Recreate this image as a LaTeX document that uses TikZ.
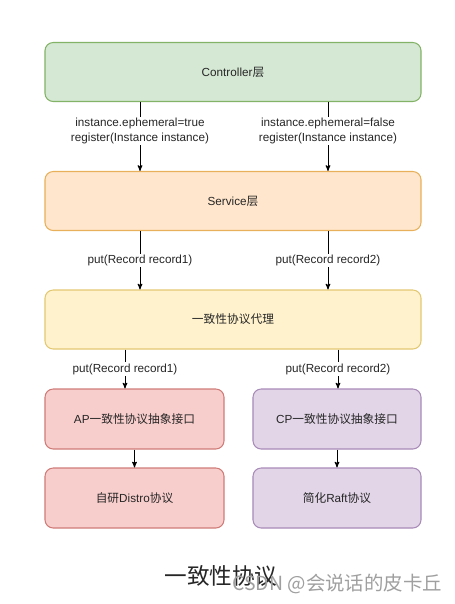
\documentclass[tikz,border=0pt]{standalone}
\usepackage{fontspec}
\setmainfont{Liberation Sans}
\newfontfamily\cjk{Noto Sans CJK SC}
\usetikzlibrary{arrows}
\usetikzlibrary{positioning}
\usepackage{xcolor}
\definecolor{greenfill}{HTML}{D5E8D4}\definecolor{greenline}{HTML}{82B366}
\definecolor{orangefill}{HTML}{FFE6CC}\definecolor{orangeline}{HTML}{E8B05A}
\definecolor{yellowfill}{HTML}{FFF2CC}\definecolor{yellowline}{HTML}{E3C872}
\definecolor{redfill}{HTML}{F8CECC}\definecolor{redline}{HTML}{CF7C79}
\definecolor{purplefill}{HTML}{E1D5E7}\definecolor{purpleline}{HTML}{A98BB8}

\begin{document}
\begin{tikzpicture}[
        x=0.03cm, y=-0.03cm,
        box/.style={rectangle, rounded corners=7pt, line width=0.9pt, minimum height=1.77cm, text=black!85, font=\fontsize{10}{12}\selectfont},
        wbox/.style={box, minimum width=11.28cm},
        lbl/.style={fill=white, inner sep=1pt, align=center, text=black!85, font=\fontsize{10}{12}\selectfont},
        >=stealth', line width=0.8pt
    ]
        \useasboundingbox (0,0) rectangle (455,604);

        \node[wbox, draw=greenline, fill=greenfill] (ctl) at (233,72) {Controller{\cjk 层}};
        \node[wbox, draw=orangeline, fill=orangefill] (svc) at (233,201) {Service{\cjk 层}};
        \node[wbox, draw=yellowline, fill=yellowfill] (proxy) at (233,319.5) {\cjk 一致性协议代理};
        \node[box, draw=redline, fill=redfill, minimum width=5.37cm, minimum height=1.8cm] (ap) at (134.5,419) {AP{\cjk 一致性协议抽象接口}};
        \node[box, draw=purpleline, fill=purplefill, minimum width=5.04cm, minimum height=1.8cm] (cp) at (337,419) {CP{\cjk 一致性协议抽象接口}};
        \node[box, draw=redline, fill=redfill, minimum width=5.37cm, minimum height=1.8cm] (distro) at (134.5,498) {{\cjk 自研}Distro{\cjk 协议}};
        \node[box, draw=purpleline, fill=purplefill, minimum width=5.04cm, minimum height=1.8cm] (raft) at (337,498) {{\cjk 简化}Raft{\cjk 协议}};

        \coordinate (xa) at (140,0);
        \coordinate (xb) at (328,0);
        \coordinate (xc) at (125,0);
        \coordinate (xd) at (338,0);

        \path[->] (ctl.south -| xa) edge node[lbl, pos=0.42] {instance.ephemeral=true\\register(Instance instance)} (svc.north -| xa)
            (ctl.south -| xb) edge node[lbl, pos=0.42] {instance.ephemeral=false\\register(Instance instance)} (svc.north -| xb)
            (svc.south -| xa) edge node[lbl] {put(Record record1)} (proxy.north -| xa)
            (svc.south -| xb) edge node[lbl] {put(Record record2)} (proxy.north -| xb)
            (proxy.south -| xc) edge node[lbl] {put(Record record1)} (ap.north -| xc)
            (proxy.south -| xd) edge node[lbl] {put(Record record2)} (cp.north -| xd)
            (ap) edge (distro)
            (cp) edge (raft);

        \node[text=black!85, font=\cjk\fontsize{19.3}{22}\selectfont] (title) at (221,576) {一致性协议};
        \node[text=gray!75, font=\cjk\fontsize{16.6}{20}\selectfont, anchor=west] (mark) at (228,584) {CSDN @会说话的皮卡丘};
    \end{tikzpicture}
\end{document}
